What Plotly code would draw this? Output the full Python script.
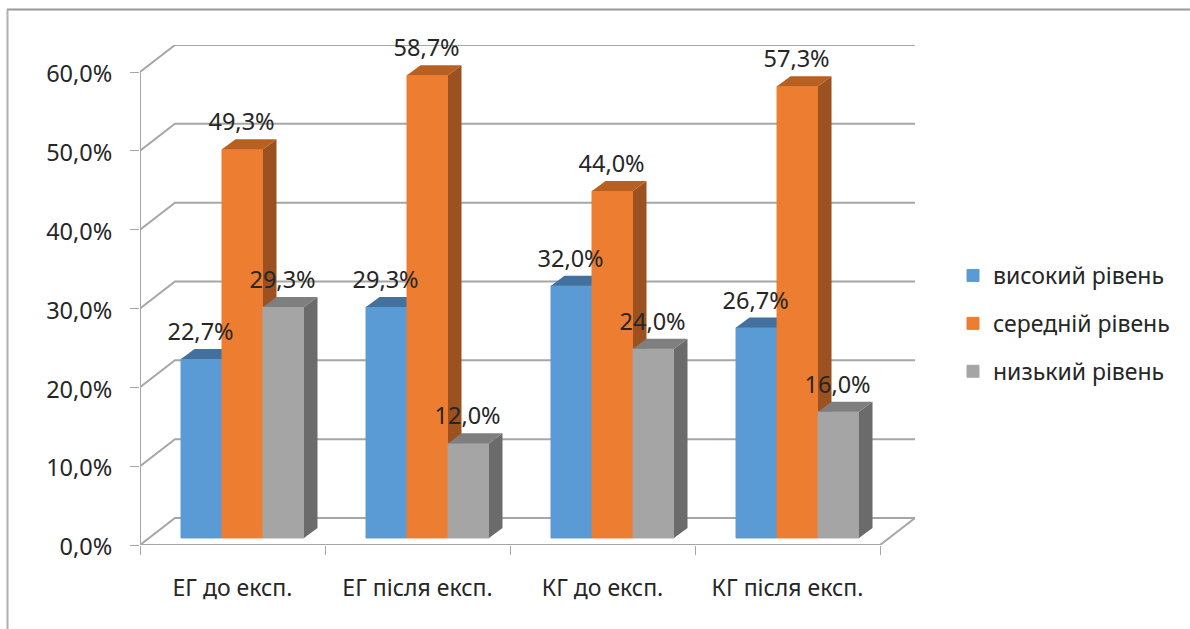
import plotly.graph_objects as go

# Chart data
categories = ["ЕГ до експ.", "ЕГ після експ.", "КГ до експ.", "КГ після експ."]
series_names = ["високий рівень", "середній рівень", "низький рівень"]
high_level = [22.7, 29.3, 32.0, 26.7]
medium_level = [49.3, 58.7, 44.0, 57.3]
low_level = [29.3, 12.0, 24.0, 16.0]
y_ticks = [0, 10, 20, 30, 40, 50, 60]
y_tick_labels = ["0,0%", "10,0%", "20,0%", "30,0%", "40,0%", "50,0%", "60,0%"]

# Face colours per series: front, top, side
front_colors = ["#5B9BD5", "#ED7D31", "#A5A5A5"]
top_colors = ["#41719C", "#B85F22", "#7F7F7F"]
side_colors = ["#34618A", "#9C5120", "#6B6B6B"]
grid_color = "#A6A6A6"
font_family = "Noto Sans"
font_size = 23.5
side_font_size = 23

# Oblique projection, in axis units
WALL_DX, WALL_DY = 0.189, 3.425
BAR_DX, BAR_DY = 0.073, 1.27
BAR_W = 0.2216
BASE = 0.89
GROUP_SHIFT = 0.054
X_MAX = len(categories) + WALL_DX
Y_MAX = y_ticks[-1] + WALL_DY

fig = go.Figure()


def add_polygon(xs, ys, color, axes):
    fig.add_trace(go.Scatter(
        x=xs + xs[:1], y=ys + ys[:1], mode="lines", fill="toself",
        fillcolor=color, line=dict(width=0), hoverinfo="skip",
        showlegend=False, xaxis=axes[0], yaxis=axes[1],
    ))


# Back wall grid and floor edges
for v in y_ticks:
    fig.add_trace(go.Scatter(
        x=[0, WALL_DX, X_MAX], y=[v, v + WALL_DY, v + WALL_DY], mode="lines",
        line=dict(color=grid_color, width=2), hoverinfo="skip", showlegend=False,
        cliponaxis=False,
    ))
fig.add_trace(go.Scatter(
    x=[0, 0, None, 0, len(categories), X_MAX], y=[y_ticks[-1], 0, None, 0, 0, WALL_DY],
    mode="lines", line=dict(color=grid_color, width=2), hoverinfo="skip",
    showlegend=False, cliponaxis=False,
))

# One overlaid axis pair per series so that faces stack left to right
all_values = [high_level, medium_level, low_level]
for k, (name, values) in enumerate(zip(series_names, all_values)):
    n = k + 2
    axes = (f"x{n}", f"y{n}")
    centers = [i + 0.5 + GROUP_SHIFT + (k - 1) * BAR_W for i in range(len(values))]
    fig.add_trace(go.Bar(
        x=centers, y=values, base=BASE, width=BAR_W, name=name,
        marker=dict(color=front_colors[k], line=dict(width=1, color=front_colors[k])),
        legendgroup=name, xaxis=axes[0], yaxis=axes[1], hoverinfo="skip",
    ))
    for c, v in zip(centers, values):
        x0, x1 = c - BAR_W / 2, c + BAR_W / 2
        h = BASE + v
        add_polygon([x1, x1 + BAR_DX, x1 + BAR_DX, x1],
                    [BASE, BASE + BAR_DY, h + BAR_DY, h], side_colors[k], axes)
        add_polygon([x0, x1, x1 + BAR_DX, x0 + BAR_DX],
                    [h, h, h + BAR_DY, h + BAR_DY], top_colors[k], axes)

# Value labels sit above every face
label_x, label_y, label_text = [], [], []
for k, values in enumerate(all_values):
    for i, v in enumerate(values):
        label_x.append(i + 0.5 + GROUP_SHIFT + (k - 1) * BAR_W - 0.005)
        label_y.append(BASE + v + 3.15)
        label_text.append(f"{v:.1f}".replace(".", ",") + "%")
fig.add_trace(go.Scatter(
    x=label_x, y=label_y, text=label_text, mode="text", textposition="middle center",
    textfont=dict(family=font_family, size=font_size, color="#262626"),
    hoverinfo="skip", showlegend=False, xaxis="x5", yaxis="y5", cliponaxis=False,
))

hidden_x = dict(range=[0, X_MAX], overlaying="x", visible=False, fixedrange=True)
hidden_y = dict(range=[0, Y_MAX], overlaying="y", visible=False, fixedrange=True)
plot_w, plot_h = 775, 500


def frame_line(x0, y0, x1, y1, color, width):
    return dict(type="line", xref="paper", yref="paper",
                x0=(x0 - 140) / plot_w, x1=(x1 - 140) / plot_w,
                y0=(545 - y0) / plot_h, y1=(545 - y1) / plot_h,
                line=dict(color=color, width=width), layer="below")


fig.update_layout(
    width=1190, height=629,
    margin=dict(l=140, r=275, t=45, b=84, autoexpand=False),
    paper_bgcolor="white", plot_bgcolor="white",
    font=dict(family=font_family, size=font_size, color="#262626"),
    barmode="overlay",
    showlegend=True,
    legend=dict(
        x=(953 - 140) / plot_w, y=(545 - 254) / plot_h, xanchor="left", yanchor="top",
        font=dict(family=font_family, size=side_font_size, color="#262626"),
        bgcolor="rgba(0,0,0,0)", tracegroupgap=15, itemwidth=30, traceorder="grouped",
        itemclick=False, itemdoubleclick=False,
    ),
    xaxis=dict(
        range=[0, X_MAX], showgrid=False, zeroline=False, showline=False,
        tickmode="array",
        tickvals=[i + 0.5 for i in range(len(categories))], ticktext=categories,
        ticks="", ticklabelstandoff=27, tickfont=dict(size=side_font_size),
        minor=dict(tickmode="array", tickvals=list(range(len(categories) + 1)),
                   ticks="outside", ticklen=9, tickwidth=1, tickcolor=grid_color),
        fixedrange=True,
    ),
    yaxis=dict(
        range=[0, Y_MAX], showgrid=False, zeroline=False, showline=False,
        tickmode="array", tickvals=y_ticks, ticktext=y_tick_labels,
        ticks="outside", ticklen=9, tickwidth=1, tickcolor=grid_color,
        ticklabelstandoff=13, ticklabelshift=2, tickfont=dict(size=font_size),
        fixedrange=True,
    ),
    shapes=[
        frame_line(7, 9.5, 1190, 9.5, "#999999", 2),
        frame_line(7.5, 9.5, 7.5, 629, "#B0B0B0", 2),
    ],
)
for n in range(2, 6):
    fig.update_layout({f"xaxis{n}": hidden_x, f"yaxis{n}": hidden_y})

fig.write_html("out.html")
